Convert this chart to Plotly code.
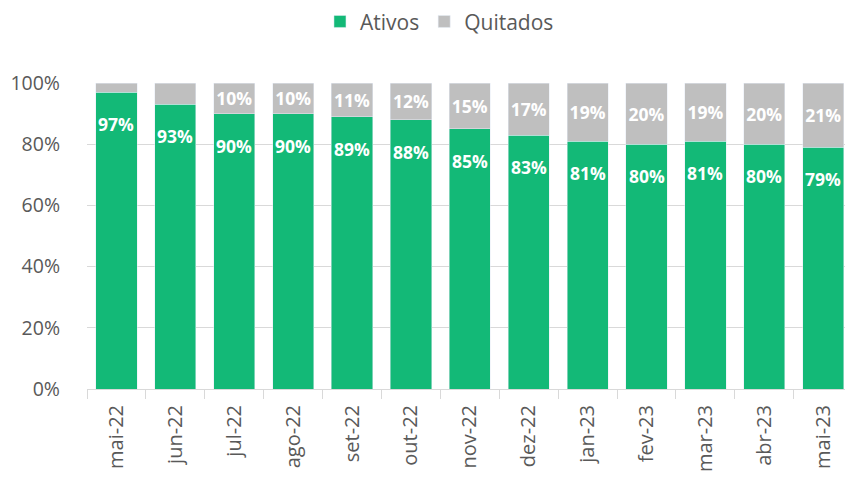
import plotly.graph_objects as go

categories = ["mai-22", "jun-22", "jul-22", "ago-22", "set-22", "out-22", "nov-22",
              "dez-22", "jan-23", "fev-23", "mar-23", "abr-23", "mai-23"]
ativos = [97, 93, 90, 90, 89, 88, 85, 83, 81, 80, 81, 80, 79]
quitados = [3, 7, 10, 10, 11, 12, 15, 17, 19, 20, 19, 20, 21]
quitados_labels = ["", "", "10%", "10%", "11%", "12%", "15%", "17%", "19%", "20%", "19%", "20%", "21%"]
ytick_vals = [0, 20, 40, 60, 80, 100]
ytick_text = ["0%", "20%", "40%", "60%", "80%", "100%"]

GREEN = "#13B977"
GRAY = "#BFBFBF"
TXT = "#595959"
FONT = "Open Sans"

fig = go.Figure()
fig.add_trace(go.Bar(x=categories, y=ativos, name="Ativos", marker_color=GREEN,
                     hoverinfo="skip"))
fig.add_trace(go.Bar(x=categories, y=quitados, name="Quitados", marker_color=GRAY,
                     text=quitados_labels, textposition="inside", insidetextanchor="middle",
                     constraintext="none", textangle=0,
                     textfont=dict(family=FONT, size=17.5, color="white", weight="bold"),
                     hoverinfo="skip"))

for c, v in zip(categories, ativos):
    fig.add_annotation(x=c, y=v, yshift=-32, text=f"<b>{v}%</b>", showarrow=False,
                       font=dict(family=FONT, size=17.5, color="white"), yanchor="middle")

fig.update_layout(
    barmode="stack", bargap=0.3,
    width=837, height=466,
    margin=dict(l=79, r=0, t=75, b=85, autoexpand=False),
    plot_bgcolor="white", paper_bgcolor="white",
    font=dict(family=FONT, color=TXT),
    legend=dict(orientation="h", x=0.465, xanchor="center", y=1.2, yanchor="middle",
                font=dict(size=21, color=TXT), traceorder="normal", itemwidth=30),
    showlegend=True,
)
fig.update_xaxes(type="category", range=[-0.5, 12.37], tickangle=-90, automargin=False,
                 tickfont=dict(size=20, color=TXT), showline=True, linecolor="#D9D9D9",
                 linewidth=1, ticks="outside", tickson="boundaries", ticklen=9,
                 tickcolor="#D9D9D9", showgrid=False, ticklabelstandoff=7)
fig.update_yaxes(range=[0, 100], tickvals=ytick_vals, ticktext=ytick_text, automargin=False,
                 tickfont=dict(size=19.5, color=TXT), showgrid=True, gridcolor="#D9D9D9",
                 gridwidth=1, zeroline=False, ticklabelstandoff=26)

fig.write_html("out.html")
